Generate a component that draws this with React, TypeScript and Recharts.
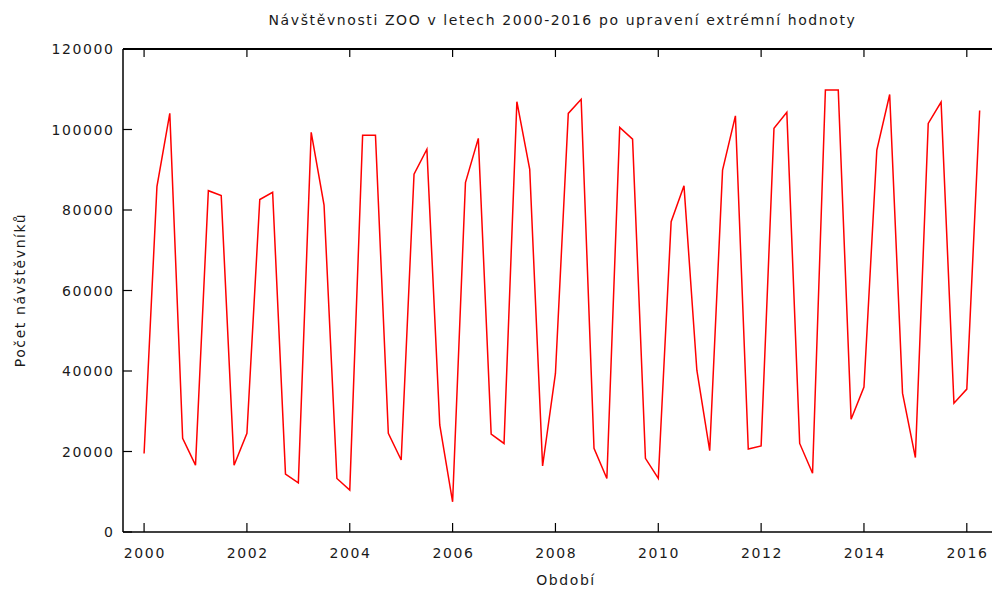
import { LineChart, Line, XAxis, YAxis } from 'recharts'

// quarterly visitor counts, 2000 Q1 .. 2016 Q2
const years = [2000, 2001, 2002, 2003, 2004, 2005, 2006, 2007, 2008, 2009, 2010, 2011, 2012, 2013, 2014, 2015, 2016]
const visitors = [
  19500, 85800, 104000, 23300,
  16600, 84800, 83600, 16600,
  24500, 82600, 84400, 14400,
  12200, 99300, 81200, 13300,
  10400, 98600, 98600, 24500,
  17900, 88900, 95100, 26600,
  7500, 86800, 97800, 24300,
  22000, 106900, 90100, 16400,
  39400, 104000, 107500, 20800,
  13300, 100500, 97600, 18300,
  13300, 77100, 86000, 40200,
  20200, 89900, 103400, 20600,
  21400, 100300, 104300, 22000,
  14600, 109800, 109800, 28000,
  36000, 94900, 108700, 34500,
  18500, 101500, 106800, 32000,
  35500, 104700,
]
const quarters = [0, 0.25, 0.5, 0.75]
const xTicks = [2000, 2002, 2004, 2006, 2008, 2010, 2012, 2014, 2016]
const yTicks = [0, 20000, 40000, 60000, 80000, 100000, 120000]

const data = visitors.map((v, i) => ({
  period: years[Math.floor(i / 4)] + quarters[i % 4],
  value: v,
}))

const FONT = '"DejaVu Sans", Verdana, sans-serif'
const INK = '#1a1a1a'
const SPACING = 1.6

function BottomTick({ x, y, payload }: any) {
  return (
    <g>
      <line x1={x} y1={y} x2={x} y2={y - 9} stroke="#000" strokeWidth={1.2} />
      <text x={x + SPACING / 2} y={y + 26} textAnchor="middle" fontSize={14} fontFamily={FONT} letterSpacing={SPACING} fill={INK}>
        {payload.value}
      </text>
    </g>
  )
}

function TopTick({ x, y }: any) {
  return <line x1={x} y1={y} x2={x} y2={y + 8} stroke="#000" strokeWidth={1.2} />
}

function LeftTick({ x, y, payload }: any) {
  return (
    <g>
      <line x1={x} y1={y} x2={x + 9} y2={y} stroke="#000" strokeWidth={1.2} />
      <text x={x - 10 + SPACING} y={y + 5} textAnchor="end" fontSize={14} fontFamily={FONT} letterSpacing={SPACING} fill={INK}>
        {payload.value}
      </text>
    </g>
  )
}

const textStyle = { fontSize: 14, color: INK, letterSpacing: SPACING, whiteSpace: 'nowrap' as const }

export default function App() {
  return (
    <div style={{ position: 'absolute', left: 0, top: 0, width: 992, height: 590, background: '#fff', fontFamily: FONT }}>
      <div style={{ ...textStyle, position: 'absolute', left: 0, width: 1125, top: 12, textAlign: 'center' }}>
        Návštěvnosti ZOO v letech 2000-2016 po upravení extrémní hodnoty
      </div>
      <div style={{ ...textStyle, position: 'absolute', left: 0, width: 1132, top: 572, textAlign: 'center' }}>
        Období
      </div>
      <div
        style={{
          ...textStyle, position: 'absolute', left: 20, top: 290,
          transform: 'translate(-50%, -50%) rotate(-90deg)',
        }}
      >
        Počet návštěvníků
      </div>
      <LineChart width={992} height={590} data={data} margin={{ top: 0, right: 0, bottom: 0, left: 0 }}>
        <XAxis
          dataKey="period"
          type="number"
          domain={[1999.59, 2016.49]}
          allowDataOverflow
          ticks={xTicks}
          height={58}
          tickSize={0}
          tickMargin={0}
          tickLine={false}
          axisLine={{ stroke: '#000', strokeWidth: 1.5 }}
          tick={<BottomTick />}
        />
        <XAxis
          xAxisId="top"
          orientation="top"
          dataKey="period"
          type="number"
          domain={[1999.59, 2016.49]}
          allowDataOverflow
          ticks={xTicks}
          height={49}
          tickSize={0}
          tickMargin={0}
          tickLine={false}
          axisLine={{ stroke: '#000', strokeWidth: 2 }}
          tick={<TopTick />}
        />
        <YAxis
          type="number"
          domain={[0, 120000]}
          ticks={yTicks}
          width={123}
          tickSize={0}
          tickMargin={0}
          tickLine={false}
          axisLine={{ stroke: '#000', strokeWidth: 1.5 }}
          tick={<LeftTick />}
        />
        <Line
          type="linear"
          dataKey="value"
          stroke="#ff0000"
          strokeWidth={1.5}
          dot={false}
          isAnimationActive={false}
        />
      </LineChart>
    </div>
  )
}
